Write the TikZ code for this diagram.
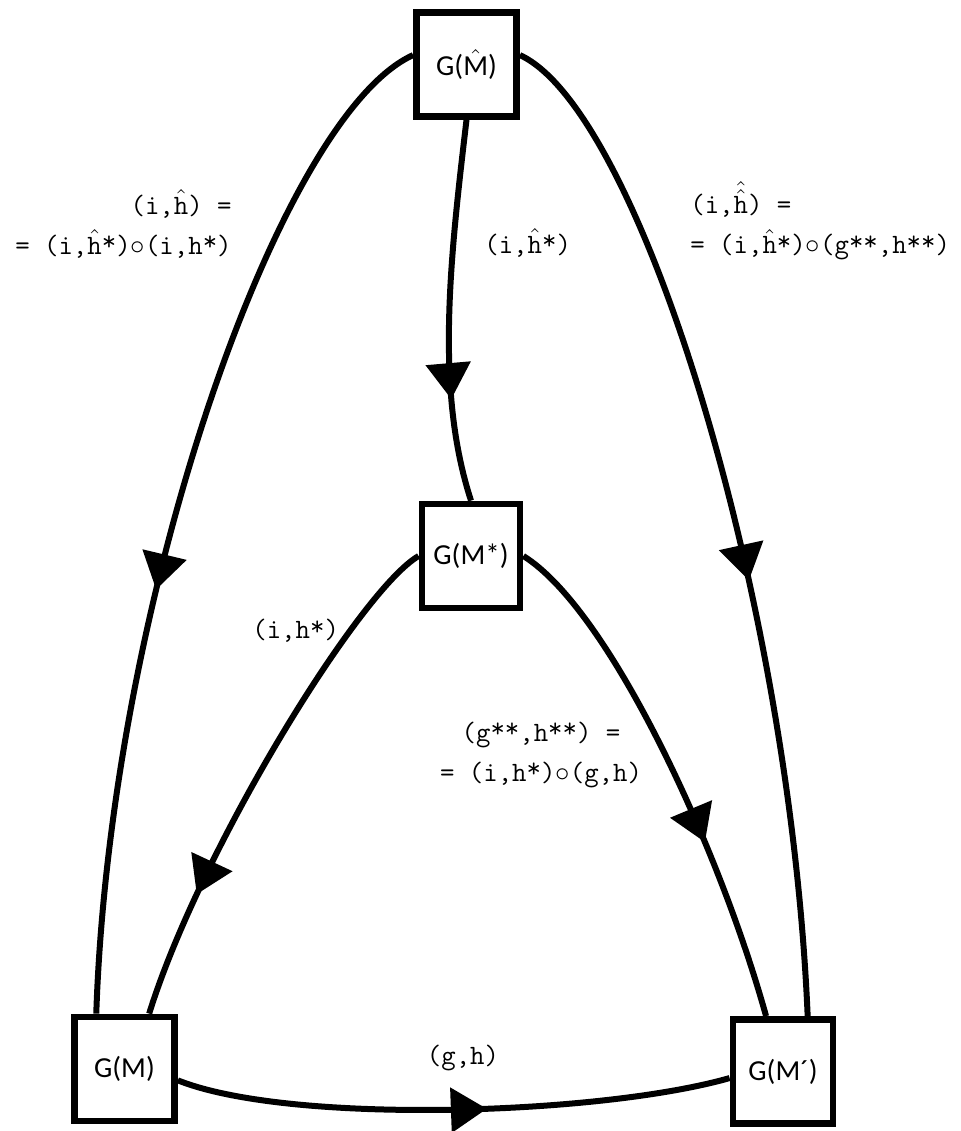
\documentclass[tikz,border=0pt]{standalone}
\usepackage{fontspec}
\usepackage{tikz}
\usetikzlibrary{arrows.meta,decorations.markings}
\newfontfamily\boxfont{Carlito}
\newcommand{\hatof}[1]{$\hat{\mbox{#1}}$}
\newcommand{\hhatof}[1]{$\hat{\hat{\mbox{#1}}}$}
\newcommand{\st}{\raisebox{0.3ex}{*}}

\begin{document}
\begin{tikzpicture}[x=0.5pt,y=-0.5pt]
	\tikzset{gbox/.style={draw,line width=3.4pt,minimum width=50pt,minimum height=52pt,inner sep=0pt,
		font=\boxfont\fontsize{14.5}{17}\selectfont}}
	\tikzset{lab/.style={font=\ttfamily\fontsize{14}{20}\selectfont,inner sep=0pt}}
	\tikzstyle{conn}=[line width=3pt]
	\tikzset{mid/.style={postaction={decorate,decoration={markings,
		mark=at position #1 with {\arrow{Triangle[length=18pt,width=22pt]}}}}}}

	\useasboundingbox (0,0) rectangle (961,1131);

	%% the four boxes
	\node[gbox] (gmh) at (466.5,64.5) {G(\hatof{M})};
	\node[gbox,minimum width=49pt] (gms) at (471,556) {G(M*)};
	\node[gbox] (gm) at (124.5,1069) {G(M)};
	\node[gbox] (gmp) at (783,1071.5) {G(M´)};

	%% connectors
	\draw[conn,mid=0.585] (gmh.170) .. controls (280,115) and (110,600) .. (gm.117);
	\draw[conn,mid=0.73] (gmh.south) .. controls (450,260) and (435,390) .. (gms.north);
	\draw[conn,mid=0.57] (gmh.10) .. controls (640,110) and (790,600) .. (gmp.66);
	\draw[conn,mid=0.76] (gms.west) .. controls (360,590) and (200,850) .. (gm.66);
	\draw[conn,mid=0.65] (gms.east) .. controls (610,610) and (720,850) .. (gmp.107);
	\draw[conn,mid=0.56] (gm.-12) .. controls (290,1125) and (600,1115) .. (gmp.-173);

	%% labels
	\node[lab,anchor=east,align=right] (lhat) at (232,224)
		{(i,\hatof{h}) =\\= (i,\hatof{h}\st)$\circ$(i,h\st)};
	\node[lab,anchor=west] (lhs) at (484,243) {(i,\hatof{h}\st)};
	\node[lab,anchor=west,align=left] (lhh) at (690,221)
		{(i,\hhatof{h}) =\\= (i,\hatof{h}\st)$\circ$(g\st\st,h\st\st)};
	\node[lab,anchor=west] (lis) at (252,631) {(i,h\st)};
	\node[lab,align=center] (lgs) at (541,755) {(g\st\st,h\st\st) =\\= (i,h\st)$\circ$(g,h)};
	\node[lab] (lgh) at (463,1058) {(g,h)};
\end{tikzpicture}
\end{document}
